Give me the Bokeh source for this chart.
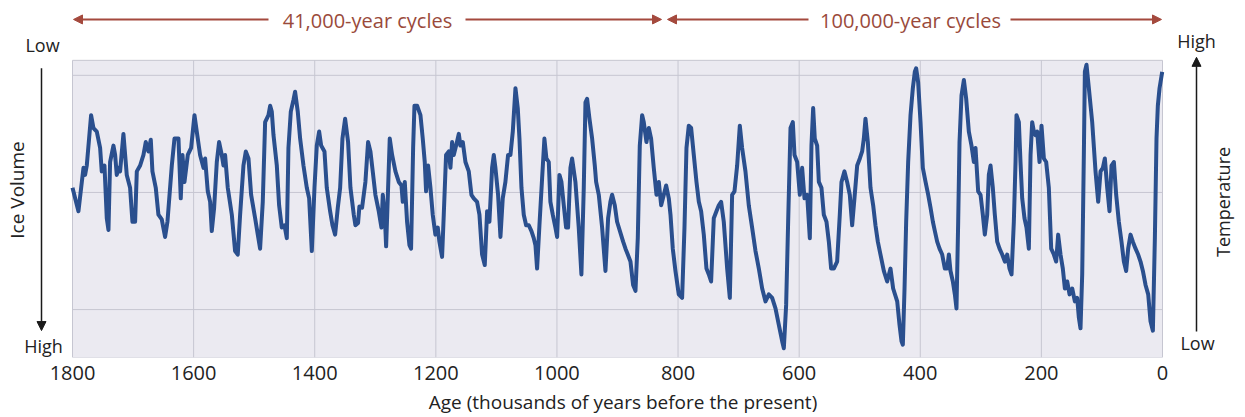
import math
from bokeh.plotting import figure
from bokeh.models import Range1d, FixedTicker, Label, Arrow, NormalHead
from bokeh.embed import file_html
from bokeh.resources import INLINE

# ---- data: age (thousands of years before present) and relative temperature index ----
ages_a = [1800.0,1790.2,1781.9,1779.2,1776.4,1769.3,1765.4,1759.9,1754.4,1751.7,
          1747.2,1743.4,1740.6,1737.9,1732.4,1729.6,1726.9,1724.1,1721.4,1715.9,
          1710.4,1704.9,1701.0,1696.6,1693.8,1688.3,1682.8,1679.0,1674.6,1670.7,
          1668.0,1662.5,1658.1,1652.6,1647.1,1643.2,1636.0,1631.6,1625.0,1621.2,
          1618.4,1615.1,1609.6,1604.1,1598.6,1594.8,1589.3,1583.7,1581.0,1576.6,
          1572.7,1570.0,1566.1,1561.7,1557.9,1553.5,1550.7,1548.0,1543.6,1536.9,
          1531.5,1527.1,1523.2,1517.7,1513.8,1509.4,1505.0,1498.4,1494.0,1490.2,
          1485.8,1481.9,1476.4,1473.6,1470.9,1468.1,1462.6,1458.8,1454.4,1450.0,
          1446.1,1443.4,1439.5,1435.1,1432.4,1428.0,1424.1,1418.6,1413.1,1409.2,
          1404.8,1400.4,1396.6,1392.7,1389.4,1383.9,1380.1,1374.6,1370.7,1366.3,
          1361.9,1358.0,1354.2,1349.8]
vals_a = [1.04,0.84,1.21,1.15,1.23,1.66,1.55,1.52,1.38,1.18,
          1.23,0.78,0.68,1.26,1.40,1.32,1.15,1.21,1.18,1.50,
          1.15,1.04,0.75,0.75,1.18,1.23,1.32,1.43,1.35,1.45,
          1.18,1.04,0.81,0.77,0.62,0.75,1.23,1.46,1.46,0.95,
          1.32,1.09,1.32,1.38,1.66,1.52,1.32,1.21,1.29,1.01,
          0.92,0.67,0.87,1.26,1.43,1.32,1.23,1.32,1.04,0.81,
          0.50,0.47,0.81,1.23,1.35,1.29,0.98,0.78,0.64,0.52,
          0.92,1.60,1.66,1.74,1.69,1.49,1.23,0.89,0.70,0.72,
          0.61,1.38,1.69,1.79,1.86,1.69,1.46,1.23,1.04,0.95,
          0.50,1.04,1.40,1.52,1.40,1.35,1.04,0.84,0.72,0.64,
          0.87,1.04,1.46,1.63]

ages_b = [1344.9,1341.0,1335.5,1332.8,1328.4,1326.2,1321.8,1316.3,1311.9,1308.0,
          1304.2,1299.8,1294.3,1289.8,1287.6,1284.3,1282.1,1279.4,1276.1,1272.2,
          1266.7,1261.2,1256.8,1254.6,1251.3,1247.5,1243.6,1240.9,1237.5,1235.3,
          1230.9,1225.4,1221.6,1218.3,1216.1,1212.8,1208.9,1205.1,1200.7,1196.8,
          1194.1,1189.7,1186.9,1183.1,1178.6,1175.9,1173.1,1170.4,1166.5,1162.1,
          1159.4,1155.5,1151.1,1145.6,1141.2,1137.4,1131.9,1128.0,1123.6,1119.2,
          1115.3,1111.5,1107.1,1104.3,1101.6,1097.2,1093.3,1089.5,1085.1,1080.7,
          1076.8,1072.9,1068.5,1064.7,1061.9,1058.6,1054.8,1050.9,1046.5,1042.1,
          1038.3,1035.5,1032.8,1028.9,1024.5,1020.7,1017.4,1013.5,1010.8,1006.9,
          1002.5,999.7,995.9,992.6,988.7,984.9,981.6,977.7,975.0,969.5,
          964.0,959.6,955.7,952.9,950.2,946.3,941.9,937.5,935.3,930.9,
          925.4,919.9,915.5,911.7,908.9,904.5,900.7]
vals_b = [1.43,1.04,0.81,0.72,0.74,0.88,0.87,1.09,1.43,1.35,
          1.18,0.98,0.84,0.70,0.98,0.81,0.54,0.95,1.46,1.32,
          1.18,1.09,1.06,0.92,1.09,0.75,0.55,0.52,1.38,1.74,
          1.74,1.66,1.46,1.26,1.01,1.23,1.04,0.81,0.64,0.70,
          0.58,0.45,0.81,1.32,1.35,1.21,1.43,1.32,1.40,1.50,
          1.40,1.43,1.26,1.18,0.98,0.95,0.92,0.81,0.47,0.38,
          0.84,0.75,1.21,1.32,1.21,0.98,0.62,0.95,1.09,1.32,
          1.32,1.52,1.89,1.72,1.46,1.04,0.81,0.72,0.72,0.67,
          0.61,0.55,0.35,0.72,1.12,1.46,1.29,1.26,0.92,0.81,
          0.70,0.62,1.15,1.09,0.89,0.70,0.70,1.21,1.29,1.09,
          0.70,0.30,1.04,1.77,1.80,1.63,1.46,1.23,1.09,0.98,
          0.70,0.33,0.78,0.92,0.98,0.89,0.75]

ages_c = [890.7,886.8,883.0,878.6,874.2,870.3,866.5,863.2,859.3,856.6,
          852.2,848.3,844.5,840.1,835.6,831.8,827.9,823.5,819.7,815.3,
          812.5,808.7,804.3,798.8,793.3,789.4,786.1,782.3,778.4,774.0,
          769.6,765.7,761.9,757.5,753.1,749.2,745.4,741.0,736.6,732.7,
          728.9,724.5,718.9,714.5,710.7,706.8,702.4,698.0,694.2,688.7,
          683.2,677.7,672.1,666.6,661.1,655.6,650.1,644.6,639.1,633.6,
          628.1,625.3,621.5,618.2,614.3,610.5,607.7,603.3,598.9,595.1,
          591.2,586.8,582.4,579.7,576.9,574.2,570.3,567.5,563.2,559.3,
          554.9,551.0,547.2,542.8,537.3,532.9,530.1,525.2,520.8,516.4,
          512.5,508.7,504.2,499.8,496.0,493.2,490.5,486.6,482.2,477.8,
          474.0,470.1,465.7,460.2,454.7,449.2,444.8]
vals_c = [0.58,0.52,0.47,0.41,0.21,0.16,0.61,1.40,1.66,1.60,
          1.43,1.55,1.46,1.21,0.98,1.09,0.89,0.98,1.06,0.95,
          0.81,0.52,0.33,0.13,0.10,0.70,1.38,1.57,1.55,1.32,
          1.09,0.92,0.84,0.64,0.35,0.30,0.24,0.78,0.84,0.89,
          0.92,0.75,0.35,0.10,0.98,1.01,1.23,1.57,1.38,1.18,
          0.89,0.70,0.50,0.35,0.18,0.07,0.13,0.10,0.01,-0.13,
          -0.27,-0.33,0.04,0.75,1.55,1.60,1.32,1.26,0.98,1.21,
          0.95,0.98,0.61,1.40,1.72,1.46,1.40,1.09,1.04,0.81,
          0.75,0.58,0.35,0.35,0.41,0.81,1.09,1.18,1.09,0.98,
          0.72,0.95,1.23,1.29,1.35,1.46,1.63,1.43,1.04,0.89,
          0.72,0.58,0.47,0.33,0.24,0.35,0.18]

ages_d = [438.1,434.3,431.0,428.8,426.0,423.3,420.0,416.1,412.3,409.0,
          406.8,403.5,399.6,395.8,391.3,386.9,383.1,379.2,375.9,372.1,
          368.2,363.8,359.4,355.6,352.8,350.1,346.2,342.9,340.2,337.4,
          335.2,331.9,328.0,324.2,319.8,315.4,311.5,308.8,304.4,300.5,
          296.7,293.4,289.5,286.8,284.0,280.2,276.9,273.0,269.1,264.7,
          260.3,256.5,252.6,249.3,245.5,242.7,241.1,237.2,234.5,231.7,
          227.9,224.6,220.7,217.9,215.2,212.4,209.7,206.9,203.1,199.8,
          195.9,192.1,187.7,183.8,179.4,175.6,172.3,168.4,164.6,161.2,
          157.4,153.5,149.1,144.7,140.9,138.1,135.4,132.6,129.9,128.2,
          125.5,121.6,116.1,110.6,106.2,102.3,98.5,95.2,91.3,87.5,
          84.2,80.3,76.5,72.1,67.7,63.8,60.0,56.7,52.8,49.0,
          44.5,40.2,36.3,32.4,28.0,23.6,19.8,15.9,12.6,9.9,
          7.7,4.9,0.5]
vals_d = [0.07,-0.13,-0.27,-0.30,0.18,0.75,1.26,1.66,1.89,2.03,
          2.06,1.94,1.60,1.21,1.09,0.98,0.87,0.75,0.67,0.58,
          0.52,0.47,0.35,0.35,0.47,0.33,0.24,0.13,0.01,0.75,
          1.43,1.83,1.96,1.80,1.52,1.40,1.26,1.38,1.01,0.98,
          0.81,0.64,0.81,1.15,1.23,1.04,0.81,0.58,0.52,0.47,
          0.41,0.47,0.35,0.30,0.75,1.26,1.66,1.60,1.26,0.95,
          0.78,0.70,0.52,1.32,1.60,1.52,1.49,1.52,1.26,1.57,
          1.29,1.26,1.04,0.52,0.47,0.41,0.64,0.47,0.35,0.18,
          0.24,0.13,0.18,0.07,0.10,-0.07,-0.16,0.30,1.32,2.03,
          2.09,1.89,1.60,1.18,0.92,1.18,1.21,1.29,1.04,0.84,
          1.23,1.26,0.98,0.75,0.58,0.41,0.33,0.52,0.64,0.58,
          0.52,0.47,0.41,0.33,0.21,0.13,-0.10,-0.18,0.61,1.46,
          1.74,1.89,2.03]

x_ticks = [0, 200, 400, 600, 800, 1000, 1200, 1400, 1600, 1800]
y_grid = [0, 1, 2]
x_label = "Age (thousands of years before the present)"
left_title, right_title = "Ice Volume", "Temperature"
top_texts = ["41,000-year cycles", "100,000-year cycles"]

ages = ages_a + ages_b + ages_c + ages_d
vals = vals_a + vals_b + vals_c + vals_d

FONT = "Open Sans"
BROWN = "#a4493d"
BROWN_TXT = "#9a4a3b"
INK = "#222222"
GRID = "#c6c6d1"
PANEL = "#ebeaf1"

# The plotting panel (age 1800..0, value -0.409..2.128) sits at page x 72..1162, y 60..358.
# The frame fills the whole canvas width and the height above the x axis, so that the
# side texts and arrows can be drawn inside it.
W, H, FRAME_BOTTOM = 1245, 417, 358
A_LEFT, A_RIGHT, PX_L, PX_R = 1800.0, 0.0, 72.0, 1162.0
V_BOT, V_TOP, PY_B, PY_T = -0.409, 2.128, 358.0, 60.0


def dx(px):
    return A_LEFT + (px - PX_L) * (A_RIGHT - A_LEFT) / (PX_R - PX_L)


def dy(py):
    return V_BOT + (PY_B - py) * (V_TOP - V_BOT) / (PY_B - PY_T)


p = figure(width=W, height=H, title=None,
           min_border_left=0, min_border_right=0, min_border_top=0, min_border_bottom=H - FRAME_BOTTOM,
           x_range=Range1d(dx(0), dx(W)), y_range=Range1d(dy(FRAME_BOTTOM), dy(0)),
           y_axis_location=None, toolbar_location=None, output_backend="svg")
p.background_fill_color = "white"
p.border_fill_color = "white"
p.outline_line_color = None
p.grid.visible = False

p.xaxis.ticker = FixedTicker(ticks=x_ticks)
p.xaxis.major_tick_line_color = None
p.xaxis.minor_tick_line_color = None
p.xaxis.axis_line_color = None
p.xaxis.major_label_standoff = 2
p.xaxis.major_label_text_font = FONT
p.xaxis.major_label_text_font_size = "20px"
p.xaxis.major_label_text_color = INK
p.xaxis.axis_label = x_label
p.xaxis.axis_label_standoff = 6
p.xaxis.axis_label_text_font = FONT
p.xaxis.axis_label_text_font_size = "19px"
p.xaxis.axis_label_text_font_style = "normal"
p.xaxis.axis_label_text_color = INK

# plotting panel and its grid
p.quad(left=A_LEFT, right=A_RIGHT, bottom=V_BOT, top=V_TOP,
       fill_color=PANEL, line_color=GRID, line_width=1)
inner_x = [t for t in x_ticks if A_RIGHT < t < A_LEFT]
p.segment(x0=inner_x, y0=[V_BOT] * len(inner_x), x1=inner_x, y1=[V_TOP] * len(inner_x),
          line_color=GRID, line_width=1)
p.segment(x0=[A_LEFT] * len(y_grid), y0=y_grid, x1=[A_RIGHT] * len(y_grid), y1=y_grid,
          line_color=GRID, line_width=1)

p.line(ages, vals, line_width=4, line_color="#2a4f8e", line_join="round")


def label(px, py, text, size="18px", color=INK, angle=0.0):
    p.add_layout(Label(x=dx(px), y=dy(py), text=text, text_align="center", text_baseline="middle",
                       text_font=FONT, text_font_size=size, text_color=color, angle=angle))


def arrow(px0, py0, px1, py1, color, width, head):
    p.add_layout(Arrow(x_start=dx(px0), y_start=dy(py0), x_end=dx(px1), y_end=dy(py1),
                       line_color=color, line_width=width,
                       end=NormalHead(size=head, fill_color=color, line_color=color)))


# left: ice volume
label(42, 45, "Low")
label(43, 346, "High")
arrow(41, 68, 41, 331, "#1a1a1a", 1.5, 9)
label(16, 190, left_title, size="19px", angle=math.pi / 2)

# right: temperature
label(1196, 41, "High")
label(1197, 343, "Low")
arrow(1196, 332, 1196, 57, "#1a1a1a", 1.5, 9)
label(1222, 202, right_title, angle=math.pi / 2)

# top: cycle arrows
arrow(268, 19, 73, 19, BROWN, 2, 9)
label(367, 20, top_texts[0], size="20px", color=BROWN_TXT)
arrow(465, 19, 661, 19, BROWN, 2, 9)
arrow(808, 19, 667, 19, BROWN, 2, 9)
label(910, 20, top_texts[1], size="20px", color=BROWN_TXT)
arrow(1010, 19, 1161, 19, BROWN, 2, 9)

open("out.html", "w").write(file_html(p, INLINE))
